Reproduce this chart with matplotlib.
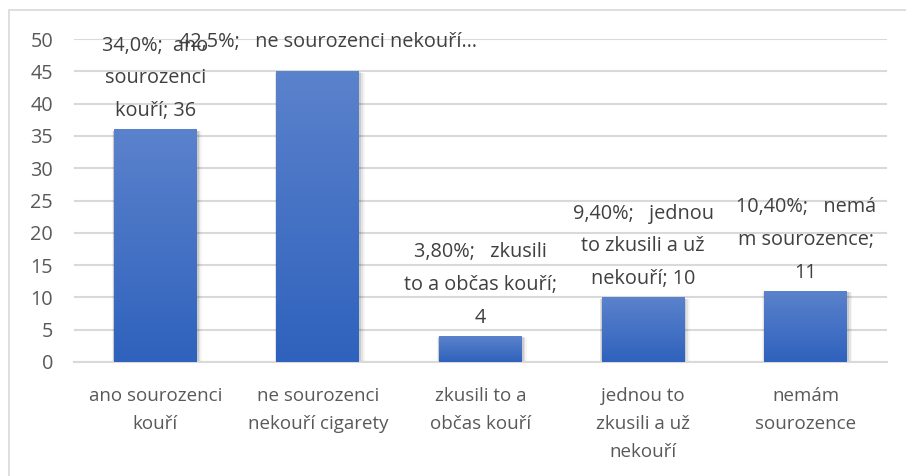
import matplotlib.pyplot as plt
import matplotlib.patches as mpatches
from matplotlib.colors import LinearSegmentedColormap
import numpy as np

categories = ["ano sourozenci\nkouří", "ne sourozenci\nnekouří cigarety", "zkusili to a\nobčas kouří",
              "jednou to\nzkusili a už\nnekouří", "nemám\nsourozence"]
values = [36, 45, 4, 10, 11]
labels = ["34,0%;  ano\nsourozenci\nkouří; 36",
          "42,5%;   ne sourozenci nekouří…",
          "3,80%;   zkusili\nto a občas kouří;\n4",
          "9,40%;   jednou\nto zkusili a už\nnekouří; 10",
          "10,40%;   nemá\nm sourozence;\n11"]
yticks = [0, 5, 10, 15, 20, 25, 30, 35, 40, 45, 50]

plt.rcParams['font.family'] = ['Open Sans', 'DejaVu Sans']

fig = plt.figure(figsize=(9.06, 4.76), dpi=100)
ax = fig.add_axes([0.0817, 0.2395, 0.8973, 0.6785])

# outer chart frame
fig.patches.append(mpatches.Rectangle((0.0095, -0.01), 1.0, 0.989, transform=fig.transFigure,
                                      fill=False, edgecolor='#d9d9d9', linewidth=1.2))

x = np.arange(len(values))
bars = ax.bar(x, values, width=0.51, color='none', edgecolor='none', zorder=3)

grad = np.linspace(0, 1, 256).reshape(-1, 1)
cmap = LinearSegmentedColormap.from_list('g', ['#2f62bd', '#5b82cc'])
for b in bars:
    x0, w, h = b.get_x(), b.get_width(), b.get_height()
    # soft shadow
    for k, a in enumerate([0.10, 0.07, 0.04]):
        d = 0.012 * (k + 1)
        ax.add_patch(mpatches.Rectangle((x0 - d * 0.3, -0.15 - d * 8), w + d * 1.2, h + d * 6,
                                        facecolor='#000000', alpha=a, edgecolor='none', zorder=2))
    im = ax.imshow(grad, extent=[x0, x0 + w, 0, h], origin='lower', cmap=cmap,
                   aspect='auto', zorder=3)
    im.set_clip_path(b)

for i, (v, t) in enumerate(zip(values, labels)):
    if i == 1:
        ax.text(i + 0.06, 49.5, t, ha='center', va='center', fontsize=14.3, color='#404040',
                zorder=5)
    else:
        ax.annotate(t, (i, v), xytext=(0, 6), textcoords='offset points', ha='center', va='bottom',
                    fontsize=14.3, color='#404040', linespacing=1.85, zorder=5)

ax.set_xlim(-0.5, len(values) - 0.5)
ax.set_ylim(0, 50)
ax.set_yticks(yticks)
ax.set_xticks(x)
ax.set_xticklabels(categories, fontsize=13.5, color='#595959', linespacing=1.7)
ax.tick_params(axis='y', labelsize=14.3, colors='#595959', length=0, pad=15)
ax.tick_params(axis='x', length=0, pad=18)
ax.yaxis.grid(True, color='#d9d9d9', linewidth=1.5, zorder=0)
ax.set_axisbelow(True)
for s in ['top', 'right', 'left']:
    ax.spines[s].set_visible(False)
ax.spines['bottom'].set_color('#d9d9d9')
ax.spines['bottom'].set_linewidth(1.5)

fig.savefig('out.png', dpi=100)
